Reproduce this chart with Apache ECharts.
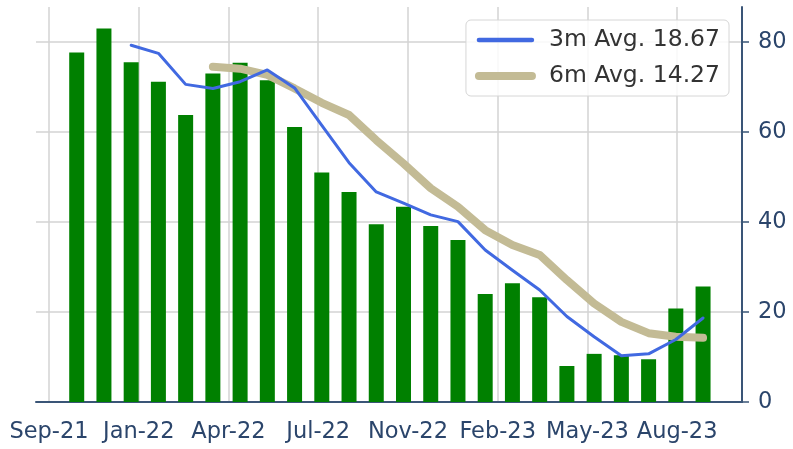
<!DOCTYPE html>
<html>
<head>
<meta charset="utf-8">
<script src="https://cdn.jsdelivr.net/npm/echarts@6/dist/echarts.min.js"></script>
<style>
  html, body { margin: 0; padding: 0; background: #fff; }
  #chart { width: 793px; height: 449px; }
</style>
</head>
<body>
<div id="chart"></div>
<script>
// monthly values (bars)
const barValues = [77.7, 83.0, 75.5, 71.2, 63.8, 73.0, 75.4, 71.5, 61.1, 51.0, 46.7, 39.5,
  43.4, 39.1, 36.0, 24.0, 26.4, 23.3, 8.0, 10.7, 10.4, 9.5, 20.8, 25.7];
// rolling averages as drawn, starting at bar index 2 and 5
const avg3 = [79.3, 77.5, 70.6, 69.7, 71.2, 73.8, 69.8, 61.5, 53.2, 46.7, 44.2, 41.6,
  40.1, 33.8, 29.3, 24.9, 19.0, 14.5, 10.3, 10.7, 13.9, 18.67];
const avg6 = [74.5, 74.1, 72.7, 69.7, 66.5, 63.8, 58.2, 53.0, 47.5, 43.4, 38.2, 34.9,
  32.7, 27.1, 21.9, 17.8, 15.3, 14.5, 14.27];
const avg3Start = 2;
const avg6Start = 5;
// x tick positions (in bar units) and their labels
const tickPos = [-1.017, 2.278, 5.573, 8.868, 12.163, 15.458, 18.753, 22.048];
const tickLabels = ["Sep-21", "Jan-22", "Apr-22", "Jul-22", "Nov-22", "Feb-23", "May-23", "Aug-23"];
const yTicks = [0, 20, 40, 60, 80];

const axisColor = "#3a5577";
const textColor = "#2b456b";
const gridColor = "#d3d3d3";
const blue = "#4169e1";
const tan = "#c3bb95";

const chart = echarts.init(document.getElementById("chart"), null, { renderer: "canvas" });

chart.setOption({
  animation: false,
  backgroundColor: "#ffffff",
  grid: { left: 36, right: 51, top: 7, bottom: 47, containLabel: false },
  legend: {
    orient: "vertical",
    right: 64,
    top: 20,
    padding: [7, 9, 7, 9],
    itemWidth: 53,
    itemHeight: 14,
    itemGap: 10,
    backgroundColor: "rgba(255,255,255,0.85)",
    borderColor: "#d6d6d6",
    borderWidth: 1,
    borderRadius: 5,
    itemStyle: { opacity: 0 },
    textStyle: {
      fontFamily: "DejaVu Sans",
      fontSize: 23.5,
      lineHeight: 26,
      color: "#333333",
      padding: [0, 0, 0, 12],
    },
    data: [
      { name: "3m Avg. 18.67", lineStyle: { color: blue, width: 4.5, cap: "round" } },
      { name: "6m Avg. 14.27", lineStyle: { color: tan, width: 8, cap: "round" } },
    ],
  },
  xAxis: {
    type: "value",
    min: -1.495,
    max: 24.43,
    axisLine: { show: true, onZero: false, lineStyle: { color: axisColor, width: 2 } },
    axisTick: { show: false, customValues: tickPos },
    axisLabel: {
      customValues: tickPos,
      margin: 19,
      fontFamily: "DejaVu Sans",
      fontSize: 22.5,
      color: textColor,
      formatter: (v) => {
        const i = tickPos.findIndex((p) => Math.abs(p - v) < 0.01);
        return i >= 0 ? tickLabels[i] : "";
      },
    },
    splitLine: { show: true, lineStyle: { color: gridColor, width: 1.5 } },
  },
  yAxis: {
    type: "value",
    position: "right",
    min: 0,
    max: 87.8,
    interval: 20,
    axisLine: { show: true, onZero: false, lineStyle: { color: axisColor, width: 2 } },
    axisTick: { show: true, length: 7, customValues: yTicks, lineStyle: { color: axisColor, width: 1.5 } },
    axisLabel: {
      customValues: yTicks,
      margin: 16,
      fontFamily: "DejaVu Sans",
      fontSize: 22.5,
      color: textColor,
    },
    splitLine: { show: true, lineStyle: { color: gridColor, width: 1.5 } },
  },
  series: [
    {
      name: "bars",
      type: "bar",
      barWidth: 15,
      itemStyle: { color: "#008000" },
      data: barValues.map((v, i) => [i, v]),
      z: 2,
    },
    {
      name: "3m Avg. 18.67",
      type: "line",
      symbol: "none",
      lineStyle: { color: blue, width: 3, cap: "round", join: "round" },
      itemStyle: { color: blue },
      data: avg3.map((v, i) => [i + avg3Start, v]),
      z: 4,
    },
    {
      name: "6m Avg. 14.27",
      type: "line",
      symbol: "none",
      lineStyle: { color: tan, width: 8, cap: "round", join: "round" },
      itemStyle: { color: tan },
      data: avg6.map((v, i) => [i + avg6Start, v]),
      z: 3,
    },
  ],
});
</script>
</body>
</html>
